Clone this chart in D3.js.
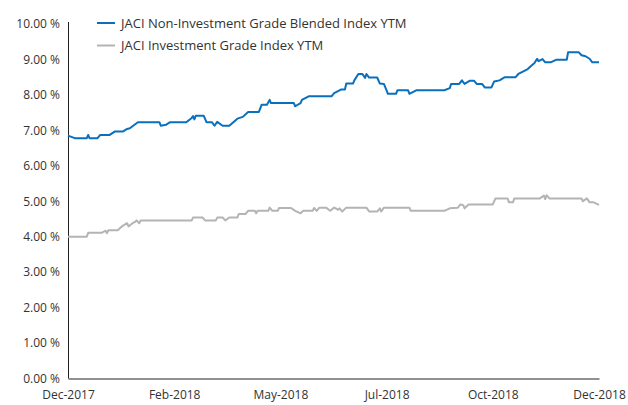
<!DOCTYPE html>
<html>
<head>
<meta charset="utf-8">
<script src="https://cdn.jsdelivr.net/npm/d3@7"></script>
<style>
  body { margin: 0; background: #fff; }
  svg text { font-family: "Open Sans", "Noto Sans", sans-serif; fill: #333; }
</style>
</head>
<body>
<svg id="chart" width="628" height="405"></svg>
<script>
// yields, [date, %]
var nonIgSeries = [
  ["2017-12-01", 6.85], ["2017-12-06", 6.78], ["2017-12-15", 6.78], ["2017-12-16", 6.87],
  ["2017-12-17", 6.78], ["2017-12-23", 6.78], ["2017-12-25", 6.87], ["2018-01-01", 6.87],
  ["2018-01-05", 6.97], ["2018-01-11", 6.97], ["2018-01-14", 7.04], ["2018-01-16", 7.06],
  ["2018-01-22", 7.23], ["2018-02-07", 7.23], ["2018-02-08", 7.13], ["2018-02-12", 7.16],
  ["2018-02-15", 7.23], ["2018-02-27", 7.23], ["2018-03-03", 7.35], ["2018-03-04", 7.40],
  ["2018-03-05", 7.31], ["2018-03-06", 7.41], ["2018-03-12", 7.41], ["2018-03-14", 7.23],
  ["2018-03-18", 7.23], ["2018-03-20", 7.13], ["2018-03-22", 7.24], ["2018-03-26", 7.13],
  ["2018-03-31", 7.13], ["2018-04-03", 7.23], ["2018-04-06", 7.33], ["2018-04-10", 7.38],
  ["2018-04-14", 7.52], ["2018-04-22", 7.52], ["2018-04-24", 7.72], ["2018-04-28", 7.72],
  ["2018-04-30", 7.86], ["2018-05-01", 7.77], ["2018-05-18", 7.77], ["2018-05-19", 7.68],
  ["2018-05-23", 7.77], ["2018-05-24", 7.86], ["2018-05-29", 7.96], ["2018-06-15", 7.96],
  ["2018-06-17", 8.05], ["2018-06-22", 8.15], ["2018-06-25", 8.15], ["2018-06-26", 8.32],
  ["2018-07-01", 8.32], ["2018-07-02", 8.41], ["2018-07-05", 8.59], ["2018-07-08", 8.59],
  ["2018-07-10", 8.48], ["2018-07-11", 8.59], ["2018-07-13", 8.49], ["2018-07-19", 8.49],
  ["2018-07-21", 8.32], ["2018-07-24", 8.31], ["2018-07-27", 8.03], ["2018-08-02", 8.03],
  ["2018-08-03", 8.13], ["2018-08-11", 8.13], ["2018-08-12", 8.03], ["2018-08-17", 8.13],
  ["2018-09-07", 8.13], ["2018-09-11", 8.19], ["2018-09-12", 8.31], ["2018-09-18", 8.31],
  ["2018-09-20", 8.41], ["2018-09-22", 8.31], ["2018-09-26", 8.40], ["2018-09-29", 8.40],
  ["2018-10-01", 8.31], ["2018-10-05", 8.31], ["2018-10-07", 8.21], ["2018-10-12", 8.21],
  ["2018-10-14", 8.38], ["2018-10-18", 8.41], ["2018-10-22", 8.50], ["2018-10-30", 8.50],
  ["2018-11-01", 8.59], ["2018-11-04", 8.65], ["2018-11-08", 8.73], ["2018-11-10", 8.80],
  ["2018-11-13", 8.90], ["2018-11-15", 9.02], ["2018-11-16", 8.95], ["2018-11-19", 9.01],
  ["2018-11-21", 8.92], ["2018-11-25", 8.92], ["2018-11-29", 8.99], ["2018-12-07", 8.99],
  ["2018-12-08", 9.20], ["2018-12-16", 9.20], ["2018-12-18", 9.12], ["2018-12-21", 9.09],
  ["2018-12-24", 9.02], ["2018-12-26", 8.92], ["2018-12-31", 8.92]
];

var igSeries = [
  ["2017-12-01", 4.00], ["2017-12-15", 4.00], ["2017-12-16", 4.11], ["2017-12-26", 4.11],
  ["2017-12-29", 4.17], ["2017-12-30", 4.10], ["2017-12-31", 4.18], ["2018-01-07", 4.18],
  ["2018-01-10", 4.29], ["2018-01-14", 4.38], ["2018-01-15", 4.29], ["2018-01-18", 4.38],
  ["2018-01-20", 4.42], ["2018-01-21", 4.46], ["2018-01-23", 4.38], ["2018-01-24", 4.46],
  ["2018-03-03", 4.46], ["2018-03-04", 4.54], ["2018-03-11", 4.54], ["2018-03-13", 4.46],
  ["2018-03-21", 4.46], ["2018-03-22", 4.54], ["2018-03-26", 4.54], ["2018-03-28", 4.46],
  ["2018-03-31", 4.54], ["2018-04-06", 4.54], ["2018-04-07", 4.64], ["2018-04-12", 4.64],
  ["2018-04-14", 4.73], ["2018-04-19", 4.73], ["2018-04-20", 4.66], ["2018-04-21", 4.73],
  ["2018-04-29", 4.73], ["2018-04-30", 4.82], ["2018-05-02", 4.73], ["2018-05-06", 4.73],
  ["2018-05-07", 4.81], ["2018-05-16", 4.81], ["2018-05-19", 4.73], ["2018-05-23", 4.66],
  ["2018-05-25", 4.73], ["2018-06-01", 4.73], ["2018-06-02", 4.81], ["2018-06-04", 4.73],
  ["2018-06-06", 4.82], ["2018-06-11", 4.82], ["2018-06-14", 4.73], ["2018-06-17", 4.82],
  ["2018-06-20", 4.76], ["2018-06-21", 4.80], ["2018-06-23", 4.71], ["2018-06-26", 4.82],
  ["2018-07-11", 4.82], ["2018-07-13", 4.71], ["2018-07-19", 4.71], ["2018-07-21", 4.80],
  ["2018-07-22", 4.71], ["2018-07-24", 4.82], ["2018-08-12", 4.82], ["2018-08-13", 4.73],
  ["2018-09-07", 4.73], ["2018-09-11", 4.80], ["2018-09-17", 4.82], ["2018-09-19", 4.91],
  ["2018-09-21", 4.89], ["2018-09-22", 4.80], ["2018-09-25", 4.91], ["2018-10-13", 4.91],
  ["2018-10-15", 5.08], ["2018-10-24", 5.08], ["2018-10-25", 4.97], ["2018-10-28", 4.97],
  ["2018-10-29", 5.08], ["2018-11-17", 5.08], ["2018-11-20", 5.16], ["2018-11-21", 5.06],
  ["2018-11-22", 5.17], ["2018-11-24", 5.08], ["2018-12-18", 5.08], ["2018-12-19", 5.00],
  ["2018-12-22", 5.08], ["2018-12-24", 4.97], ["2018-12-27", 4.97], ["2018-12-31", 4.90]
];

var seriesNames = ["JACI Non-Investment Grade Blended Index YTM", "JACI Investment Grade Index YTM"];
var seriesColors = ["#0a6fbd", "#b4b4b4"];
var xTickLabels = ["Dec-2017", "Feb-2018", "May-2018", "Jul-2018", "Oct-2018", "Dec-2018"];
var yTicks = [0, 1, 2, 3, 4, 5, 6, 7, 8, 9, 10];

var svg = d3.select("#chart");
var parse = d3.timeParse("%Y-%m-%d");

var plotLeft = 68, plotRight = 599, plotTop = 24, plotBottom = 378.5;

var x = d3.scaleTime()
  .domain([parse("2017-12-01"), parse("2018-12-31")])
  .range([plotLeft, plotRight]);

var y = d3.scaleLinear()
  .domain([0, 10])
  .range([plotBottom, plotTop]);

// x labels sit evenly along the axis
var dom = x.domain();
var xTickDates = xTickLabels.map(function(d, i){
  return new Date(+dom[0] + i * (dom[1] - dom[0]) / (xTickLabels.length - 1));
});

var yAxis = svg.append("g")
  .attr("transform", "translate(" + plotLeft + ",0)")
  .call(d3.axisLeft(y).tickValues(yTicks).tickSize(0).tickPadding(8)
    .tickFormat(function(d){ return d3.format(".2f")(d) + " %"; }));

var xAxis = svg.append("g")
  .attr("transform", "translate(0," + plotBottom + ")")
  .call(d3.axisBottom(x).tickValues(xTickDates).tickSize(0).tickPadding(12)
    .tickFormat(function(d, i){ return xTickLabels[i]; }));

svg.selectAll(".domain").attr("stroke", "#222").attr("stroke-width", 1);
svg.selectAll(".tick text").style("font-size", "12px").attr("fill", "#333");
yAxis.select(".domain").attr("d", "M0.5," + (plotTop - 2) + "V" + plotBottom);

var line = d3.line()
  .x(function(d){ return x(parse(d[0])); })
  .y(function(d){ return y(d[1]); });

[igSeries, nonIgSeries].forEach(function(s, i){
  svg.append("path")
    .datum(s)
    .attr("fill", "none")
    .attr("stroke", seriesColors[1 - i])
    .attr("stroke-width", 2)
    .attr("stroke-linejoin", "round")
    .attr("d", line);
});

// legend
var legend = svg.append("g").attr("class", "legend");
seriesNames.forEach(function(name, i){
  var ly = 23 + i * 22.5;
  legend.append("line")
    .attr("x1", 97).attr("x2", 115)
    .attr("y1", ly).attr("y2", ly)
    .attr("stroke", seriesColors[i])
    .attr("stroke-width", 2);
  legend.append("text")
    .attr("x", 121).attr("y", ly)
    .attr("dy", "0.35em")
    .style("font-size", "13px")
    .text(name);
});
</script>
</body>
</html>
